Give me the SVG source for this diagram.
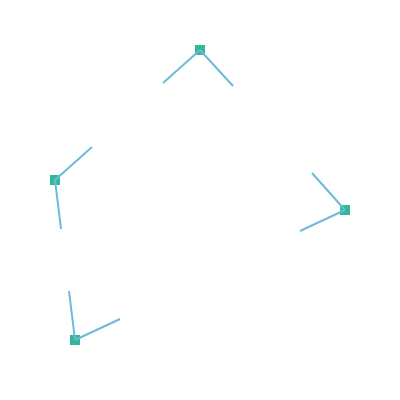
<svg xmlns="http://www.w3.org/2000/svg" width="400" height="400" viewBox="0 0 400 400">
<style>
.node rect{fill:#33b897}
.edge{stroke:#6bbbd9;stroke-width:2;fill:none;stroke-linecap:butt}
</style>
<rect width="400" height="400" fill="#ffffff"/>
<g id="node-top" class="node"><rect x="195" y="45" width="10" height="10"/></g>
<g id="node-left" class="node"><rect x="50" y="175" width="10" height="10"/></g>
<g id="node-right" class="node"><rect x="340" y="205" width="10" height="10"/></g>
<g id="node-bottom" class="node"><rect x="70" y="335" width="10" height="10"/></g>
<g id="connectors">
<line class="edge" x1="200" y1="50" x2="163" y2="83"/>
<line class="edge" x1="200" y1="50" x2="233" y2="86"/>
<line class="edge" x1="55" y1="180" x2="92" y2="147"/>
<line class="edge" x1="55" y1="180" x2="61" y2="229"/>
<line class="edge" x1="345" y1="210" x2="312" y2="173"/>
<line class="edge" x1="345" y1="210" x2="300" y2="231"/>
<line class="edge" x1="75" y1="340" x2="69" y2="291"/>
<line class="edge" x1="75" y1="340" x2="120" y2="319"/>
</g>
</svg>
